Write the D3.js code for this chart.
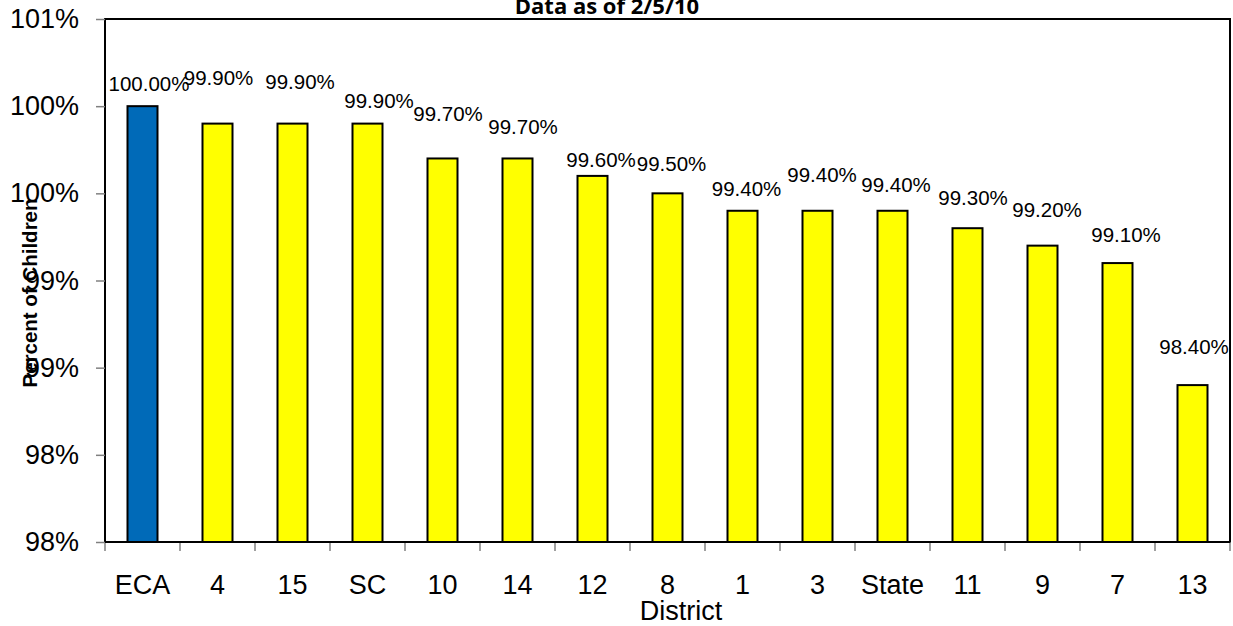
<!DOCTYPE html>
<html>
<head>
<meta charset="utf-8">
<script src="https://d3js.org/d3.v7.min.js"></script>
<style>
  html, body { margin: 0; padding: 0; background: #fff; }
  svg { display: block; }
</style>
</head>
<body>
<svg id="chart" width="1233" height="626"></svg>
<script>
// ---- data ----
const categories = ["ECA", "4", "15", "SC", "10", "14", "12", "8", "1", "3", "State", "11", "9", "7", "13"];
const values = [100.0, 99.9, 99.9, 99.9, 99.7, 99.7, 99.6, 99.5, 99.4, 99.4, 99.4, 99.3, 99.2, 99.1, 98.4];
const valueLabels = ["100.00%", "99.90%", "99.90%", "99.90%", "99.70%", "99.70%", "99.60%", "99.50%", "99.40%", "99.40%", "99.40%", "99.30%", "99.20%", "99.10%", "98.40%"];
const yTicks = [97.5, 98.0, 98.5, 99.0, 99.5, 100.0, 100.5];
const titleText = "Data as of 2/5/10";
const xTitle = "District";
const yTitle = "Percent of Children";

// ---- layout (not data) ----
const plot = { left: 105, right: 1230, top: 19, bottom: 542 };
// label nudges relative to bar center / bar top (px), mimicking original placement
const labelNudge = [[6.5,-15],[1,-39],[7.5,-35],[11.5,-16],[5.5,-37],[5.5,-24],[8.5,-9],[4,-22],[4,-15],[4.5,-29],[3.5,-19],[5.5,-23],[4.5,-29],[8.5,-21],[1.5,-31]];

const svg = d3.select("#chart");
const font = "Arial, 'Liberation Sans', sans-serif";

const x = d3.scaleBand().domain(categories).range([plot.left, plot.right]).padding(0);
const y = d3.scaleLinear().domain([97.5, 100.5]).range([plot.bottom, plot.top]);
const barW = x.bandwidth() * 0.4;

// plot frame
svg.append("rect")
  .attr("x", plot.left).attr("y", plot.top)
  .attr("width", plot.right - plot.left).attr("height", plot.bottom - plot.top)
  .attr("fill", "none").attr("stroke", "#000").attr("stroke-width", 2);

// Y axis
const yAxis = d3.axisLeft(y).tickValues(yTicks).tickSize(9).tickPadding(17)
  .tickFormat(d => d.toFixed(0) + "%");
const gy = svg.append("g").attr("transform", `translate(${plot.left},0)`).call(yAxis);
gy.select(".domain").remove();
gy.selectAll(".tick line").attr("stroke", "#808080").attr("stroke-width", 1.5);
gy.selectAll(".tick text").attr("font-family", font).attr("font-size", 27).attr("fill", "#000");

// X axis: ticks at band boundaries
const gx = svg.append("g").attr("transform", `translate(0,${plot.bottom})`);
const boundaries = categories.map(c => x(c)).concat([plot.right]);
gx.selectAll("line.tk").data(boundaries).join("line")
  .attr("class", "tk")
  .attr("x1", d => d).attr("x2", d => d)
  .attr("y1", 0).attr("y2", 9)
  .attr("stroke", "#808080").attr("stroke-width", 1.5);
gx.selectAll("text.cat").data(categories).join("text")
  .attr("class", "cat")
  .attr("x", d => x(d) + x.bandwidth() / 2)
  .attr("y", 52)
  .attr("text-anchor", "middle")
  .attr("font-family", font).attr("font-size", 27).attr("fill", "#000")
  .text(d => d);

// bars
svg.append("g").selectAll("rect").data(categories).join("rect")
  .attr("x", (d) => x(d) + (x.bandwidth() - barW) / 2)
  .attr("y", (d, i) => y(values[i]))
  .attr("width", barW)
  .attr("height", (d, i) => y(97.5) - y(values[i]))
  .attr("fill", (d, i) => i === 0 ? "#006AB8" : "#FFFF00")
  .attr("stroke", "#000").attr("stroke-width", 2);

// redraw bottom frame line over bars
svg.append("line")
  .attr("x1", plot.left).attr("x2", plot.right)
  .attr("y1", plot.bottom).attr("y2", plot.bottom)
  .attr("stroke", "#000").attr("stroke-width", 2);

// data labels
svg.append("g").selectAll("text").data(categories).join("text")
  .attr("x", (d, i) => x(d) + x.bandwidth() / 2 + labelNudge[i][0])
  .attr("y", (d, i) => y(values[i]) + labelNudge[i][1])
  .attr("text-anchor", "middle")
  .attr("font-family", font).attr("font-size", 20.5).attr("fill", "#000")
  .text((d, i) => valueLabels[i]);

// title
svg.append("text")
  .attr("x", 607).attr("y", 14)
  .attr("text-anchor", "middle")
  .attr("font-family", "'Open Sans', 'Noto Sans', sans-serif").attr("font-weight", "bold")
  .attr("font-size", 22).attr("fill", "#000")
  .text(titleText);

// x title
svg.append("text")
  .attr("x", 681).attr("y", 620)
  .attr("text-anchor", "middle")
  .attr("font-family", font).attr("font-size", 27).attr("fill", "#000")
  .text(xTitle);

// y title
svg.append("text")
  .attr("transform", "translate(37,293) rotate(-90)")
  .attr("text-anchor", "middle")
  .attr("font-family", font).attr("font-weight", "bold")
  .attr("font-size", 20.5).attr("fill", "#000")
  .text(yTitle);
</script>
</body>
</html>
